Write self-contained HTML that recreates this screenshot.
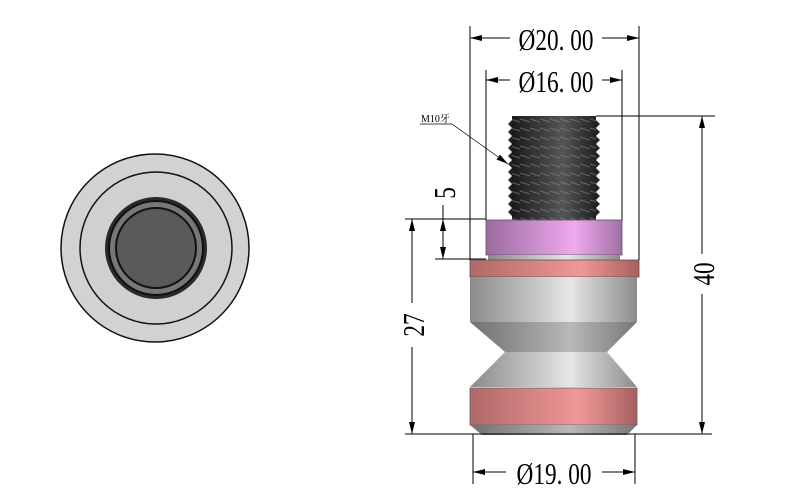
<!DOCTYPE html>
<html><head><meta charset="utf-8"><style>html,body{margin:0;padding:0;background:#fff}svg{display:block}</style></head>
<body>
<svg width="800" height="500" viewBox="0 0 800 500" xmlns="http://www.w3.org/2000/svg">
<defs>
<linearGradient id="g" x1="0" x2="1"><stop offset="0" stop-color="#8a8a8a"/><stop offset="0.6" stop-color="#e6e6e6"/><stop offset="1" stop-color="#8c8c8c"/></linearGradient>
<linearGradient id="gd" x1="0" x2="1"><stop offset="0" stop-color="#707070"/><stop offset="0.6" stop-color="#b8b8b8"/><stop offset="1" stop-color="#777"/></linearGradient>
<linearGradient id="p" x1="0" x2="1"><stop offset="0" stop-color="#9c6aa0"/><stop offset="0.65" stop-color="#eeaaee"/><stop offset="1" stop-color="#a070a4"/></linearGradient>
<linearGradient id="r" x1="0" x2="1"><stop offset="0" stop-color="#b06868"/><stop offset="0.65" stop-color="#f09898"/><stop offset="1" stop-color="#a86060"/></linearGradient>
<linearGradient id="t" x1="0" x2="1"><stop offset="0" stop-color="#1a1a1a"/><stop offset="0.6" stop-color="#555"/><stop offset="1" stop-color="#222"/></linearGradient>
<pattern id="th" width="10" height="9" patternUnits="userSpaceOnUse"><line x1="0" y1="2" x2="10" y2="5" stroke="#888" stroke-width="1"/></pattern>
<marker id="a" markerWidth="12" markerHeight="6" refX="12" refY="3" orient="auto-start-reverse" markerUnits="userSpaceOnUse"><path d="M0,0 L12,3 L0,6 Z" fill="#000"/></marker>
</defs>
<circle cx="155" cy="248" r="94" fill="#d2d2d2" stroke="#111" stroke-width="1.5"/>
<circle cx="156" cy="248" r="76" fill="#d0d0d0" stroke="#111" stroke-width="1.5"/>
<circle cx="156" cy="248" r="51" fill="#2a2a2a"/>
<circle cx="156" cy="248" r="47" fill="#777" stroke="#111" stroke-width="2"/>
<circle cx="156" cy="248" r="40" fill="#5a5a5a" stroke="#111" stroke-width="2"/>
<rect x="512" y="116" width="84" height="104" fill="url(#t)"/>
<rect x="512" y="116" width="84" height="104" fill="url(#th)" opacity="0.6"/>
<path d="M512,120 l-4,4 l4,4 l-4,4 l4,4 l-4,4 l4,4 l-4,4 l4,4 l-4,4 l4,4 l-4,4 l4,4 l-4,4 l4,4 l-4,4 l4,4 l-4,4 l4,4 l-4,4 l4,4 l-4,4 l4,4 l-4,4 l4,4Z" fill="#222"/>
<path d="M596,120 l4,4 l-4,4 l4,4 l-4,4 l4,4 l-4,4 l4,4 l-4,4 l4,4 l-4,4 l4,4 l-4,4 l4,4 l-4,4 l4,4 l-4,4 l4,4 l-4,4 l4,4 l-4,4 l4,4 l-4,4 l4,4 l-4,4Z" fill="#222"/>
<rect x="486" y="220" width="136" height="35" fill="url(#p)" stroke="#555" stroke-width="0.8"/>
<rect x="488" y="255" width="132" height="5" fill="url(#g)"/>
<rect x="470" y="260" width="169" height="17" fill="url(#r)" stroke="#555" stroke-width="0.8"/>
<rect x="470" y="277" width="167" height="45" fill="url(#g)"/>
<path d="M470,322 L505,352 L607,352 L637,322Z" fill="url(#gd)"/>
<path d="M505,352 L470,387 L637,387 L607,352Z" fill="url(#g)"/>
<rect x="470" y="388" width="167" height="37" fill="url(#r)" stroke="#666" stroke-width="0.8"/>
<path d="M470,425 L637,425 L627,435 L482,435Z" fill="url(#gd)"/>
<g stroke="#000" stroke-width="1" fill="none">
<line x1="470" y1="26" x2="470" y2="260"/><line x1="639" y1="26" x2="639" y2="260"/>
<line x1="486" y1="70" x2="486" y2="220"/><line x1="622" y1="70" x2="622" y2="220"/>
<line x1="470" y1="38" x2="510" y2="38" marker-start="url(#a)"/><line x1="602" y1="38" x2="639" y2="38" marker-end="url(#a)"/>
<line x1="486" y1="80" x2="510" y2="80" marker-start="url(#a)"/><line x1="602" y1="80" x2="622" y2="80" marker-end="url(#a)"/>
<line x1="596" y1="116" x2="715" y2="116"/>
<line x1="702" y1="116" x2="702" y2="254" marker-start="url(#a)"/><line x1="702" y1="294" x2="702" y2="434" marker-end="url(#a)"/>
<line x1="405" y1="434" x2="712" y2="434"/>
<line x1="405" y1="219" x2="486" y2="219"/><line x1="435" y1="259" x2="486" y2="259"/>
<line x1="412" y1="219" x2="412" y2="303" marker-start="url(#a)"/><line x1="412" y1="347" x2="412" y2="434" marker-end="url(#a)"/>
<line x1="443" y1="205" x2="443" y2="219"/>
<line x1="443" y1="219" x2="443" y2="259" marker-start="url(#a)" marker-end="url(#a)"/>
<line x1="473" y1="434" x2="473" y2="484"/><line x1="635" y1="434" x2="635" y2="484"/>
<line x1="473" y1="472" x2="506" y2="472" marker-start="url(#a)"/><line x1="602" y1="472" x2="635" y2="472" marker-end="url(#a)"/>
<line x1="420" y1="124" x2="452" y2="124" stroke-width="0.7"/>
<line x1="452" y1="124" x2="508" y2="164" marker-end="url(#a)" stroke-width="0.7"/>
</g>
<g font-family="Liberation Serif, serif" font-size="31" fill="#000" text-anchor="middle">
<text transform="translate(556 50) scale(0.75 1)">Ø20. 00</text>
<text transform="translate(556 92) scale(0.75 1)">Ø16. 00</text>
<text transform="translate(554 484) scale(0.75 1)">Ø19. 00</text>
<text transform="translate(714 274) rotate(-90) scale(0.75 1)">40</text>
<text transform="translate(424 325) rotate(-90) scale(0.75 1)">27</text>
<text transform="translate(455 193) rotate(-90) scale(0.75 1)">5</text>
</g>
<text x="421" y="122" font-family="Liberation Serif, 'Noto Serif CJK SC', serif" font-size="10" fill="#000">M10牙</text>
</svg>
</body></html>
